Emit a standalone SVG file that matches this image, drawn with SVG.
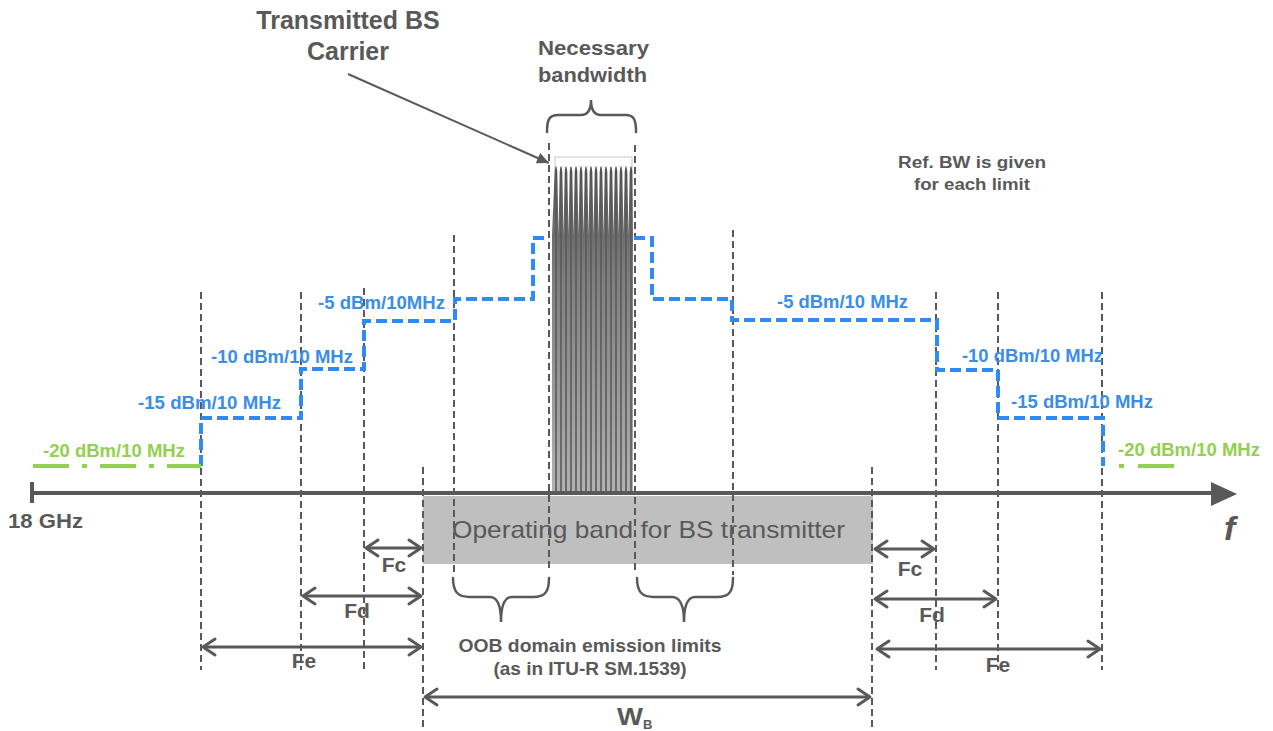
<svg xmlns="http://www.w3.org/2000/svg" width="1273" height="731" viewBox="0 0 1273 731">
<style>
.t{font-family:"Liberation Sans",Arial,sans-serif;font-weight:bold;fill:#595959}
.blue{font-family:"Liberation Sans",Arial,sans-serif;font-weight:bold;fill:#3a8ee8;font-size:19px}
.green{font-family:"Liberation Sans",Arial,sans-serif;font-weight:bold;fill:#92d050;font-size:19px}
.vd{stroke:#595959;stroke-width:2;stroke-dasharray:7 4;fill:none}
.dim{stroke:#595959;stroke-width:3;fill:none;marker-start:url(#chev);marker-end:url(#chev)}
.brace{stroke:#595959;stroke-width:2.5;fill:none;stroke-linecap:round}
.mask{stroke:#2e8af5;stroke-width:4;stroke-dasharray:11 5;fill:none}
.gr{stroke:#92d050;stroke-width:4;fill:none}
</style>
<defs>
<marker id="chev" markerUnits="userSpaceOnUse" viewBox="-15 -10 17 20" refX="0" refY="0" markerWidth="17" markerHeight="20" orient="auto-start-reverse" overflow="visible">
<path d="M-12,-8 L0,0 L-12,8" fill="none" stroke="#595959" stroke-width="3" stroke-linecap="round" stroke-linejoin="round"/>
</marker>
<marker id="tri" markerUnits="userSpaceOnUse" viewBox="-12 -6 14 12" refX="0" refY="0" markerWidth="14" markerHeight="12" orient="auto" overflow="visible">
<path d="M-12,-5.5 L0,0 L-12,5.5 Z" fill="#595959"/>
</marker>
<linearGradient id="cg" x1="0" y1="160" x2="0" y2="492" gradientUnits="userSpaceOnUse">
<stop offset="0" stop-color="#4f4f4f"/>
<stop offset="0.35" stop-color="#7e7e7e"/>
<stop offset="1" stop-color="#b2b2b2"/>
</linearGradient>
</defs>

<g id="operating-band">
<rect x="423" y="496" width="450" height="68" fill="#bfbfbf"/>
<text x="452" y="538" font-family="Liberation Sans, Arial, sans-serif" font-size="24" fill="#595959" textLength="393" lengthAdjust="spacingAndGlyphs">Operating band for BS transmitter</text>
</g>

<g id="carrier">
<rect x="555" y="157" width="77" height="335" fill="none" stroke="#c8c8c8" stroke-width="1"/>
<path fill="url(#cg)" d="M552,492 L552,235
L554.7,172 Q556,160 557.3,172 L558.5,235
L559.7,172 Q561,160 562.3,172 L563.5,235
L564.7,172 Q566,160 567.3,172 L568.5,235
L569.7,172 Q571,160 572.3,172 L573.5,235
L574.7,172 Q576,160 577.3,172 L578.5,235
L579.7,172 Q581,160 582.3,172 L583.5,235
L584.7,172 Q586,160 587.3,172 L588.5,235
L589.7,172 Q591,160 592.3,172 L593.5,235
L594.7,172 Q596,160 597.3,172 L598.5,235
L599.7,172 Q601,160 602.3,172 L603.5,235
L604.7,172 Q606,160 607.3,172 L608.5,235
L609.7,172 Q611,160 612.3,172 L613.5,235
L614.7,172 Q616,160 617.3,172 L618.5,235
L619.7,172 Q621,160 622.3,172 L623.5,235
L624.7,172 Q626,160 627.3,172 L628.5,235
L629.7,172 Q631,160 632.3,172 L633,235
L633,492 Z"/>
<path d="M556,180V492M561,180V492M566,180V492M571,180V492M576,180V492M581,180V492M586,180V492M591,180V492M596,180V492M601,180V492M606,180V492M611,180V492M616,180V492M621,180V492M626,180V492M631,180V492" stroke="#5a5a5a" stroke-width="1.6"/>
</g>

<g id="connectors">
<g id="guides">
<line class="vd" x1="201" y1="292" x2="201" y2="670"/>
<line class="vd" x1="301" y1="292" x2="301" y2="670"/>
<line class="vd" x1="364" y1="288" x2="364" y2="672"/>
<line class="vd" x1="423" y1="467" x2="423" y2="728"/>
<line class="vd" x1="454" y1="235" x2="454" y2="572"/>
<line class="vd" x1="549" y1="143" x2="549" y2="572"/>
<line class="vd" x1="635" y1="145" x2="635" y2="572"/>
<line class="vd" x1="733" y1="230" x2="733" y2="575"/>
<line class="vd" x1="872" y1="467" x2="872" y2="728"/>
<line class="vd" x1="936" y1="292" x2="936" y2="670"/>
<line class="vd" x1="998" y1="292" x2="998" y2="670"/>
<line class="vd" x1="1102" y1="292" x2="1102" y2="670"/>
</g>
<g id="axis">
<line x1="32" y1="493" x2="1214" y2="493" stroke="#595959" stroke-width="4"/>
<line x1="32" y1="482" x2="32" y2="503" stroke="#595959" stroke-width="4"/>
<path d="M1211,482 L1237,494 L1211,506 Z" fill="#595959"/>
</g>
<g id="mask">
<path class="mask" d="M201,466 V418 H301 V369 H364 V321 H455 V299 H533 V238 H549"/>
<path class="mask" d="M634,238 H652 V299 H732 V320 H937 V370 H998 V418 H1103 V466"/>
<path class="gr" d="M33,466 H201" stroke-dasharray="36 13 5 13"/>
<path class="gr" d="M1119,466 H1174" stroke-dasharray="5 14 36"/>
</g>
<g id="dims">
<line class="dim" x1="366" y1="548" x2="421" y2="548"/>
<line class="dim" x1="303" y1="596" x2="421" y2="596"/>
<line class="dim" x1="203" y1="647" x2="421" y2="647"/>
<line class="dim" x1="875" y1="549" x2="934" y2="549"/>
<line class="dim" x1="875" y1="599" x2="996" y2="599"/>
<line class="dim" x1="877" y1="649" x2="1100" y2="649"/>
<line class="dim" x1="425" y1="697" x2="870" y2="697"/>
</g>
<line id="carrier-pointer" x1="348" y1="74" x2="549" y2="163" stroke="#595959" stroke-width="2" marker-end="url(#tri)"/>
<g id="braces">
<path class="brace" d="M547,132 C547,120 549,115 558,115 L581,115 C587,115 591,111 591,100 C591,111 595,115 601,115 L626,115 C634,115 636,120 636,132"/>
<path class="brace" d="M453,578 C453,592 458,597 470,597 L490,597 C497,597 501,604 501,622 C501,604 505,597 512,597 L533,597 C545,597 549,592 549,578"/>
<path class="brace" d="M637,578 C637,592 642,597 654,597 L672,597 C679,597 684,604 684,622 C684,604 688,597 695,597 L717,597 C729,597 733,592 733,578"/>
</g>
</g>

<g id="labels">
<text class="t" x="348" y="29" font-size="25" text-anchor="middle">Transmitted BS</text>
<text class="t" x="348" y="60" font-size="25" text-anchor="middle">Carrier</text>
<text class="t" x="538" y="55" font-size="20" textLength="111" lengthAdjust="spacingAndGlyphs">Necessary</text>
<text class="t" x="538" y="82" font-size="20" textLength="109" lengthAdjust="spacingAndGlyphs">bandwidth</text>
<text class="t" x="898" y="168" font-size="16" textLength="148" lengthAdjust="spacingAndGlyphs">Ref. BW is given</text>
<text class="t" x="914" y="190" font-size="16" textLength="116" lengthAdjust="spacingAndGlyphs">for each limit</text>
<text class="t" x="8" y="528" font-size="21" textLength="75" lengthAdjust="spacingAndGlyphs">18 GHz</text>
<text class="t" x="1224" y="540" font-size="34" font-style="italic">f</text>
<text class="t" x="394" y="572" font-size="21" text-anchor="middle">Fc</text>
<text class="t" x="357" y="618" font-size="21" text-anchor="middle">Fd</text>
<text class="t" x="304" y="668" font-size="21" text-anchor="middle">Fe</text>
<text class="t" x="910" y="576" font-size="21" text-anchor="middle">Fc</text>
<text class="t" x="932" y="622" font-size="21" text-anchor="middle">Fd</text>
<text class="t" x="998" y="672" font-size="21" text-anchor="middle">Fe</text>
<text class="t" x="590" y="652" font-size="19" text-anchor="middle" textLength="263" lengthAdjust="spacingAndGlyphs">OOB domain emission limits</text>
<text class="t" x="590" y="675" font-size="19" text-anchor="middle">(as in ITU-R SM.1539)</text>
<text class="t" x="617" y="725" font-size="24" textLength="26" lengthAdjust="spacingAndGlyphs">W</text>
<text class="t" x="643" y="729" font-size="13">B</text>
<text class="blue" x="318" y="309" textLength="127" lengthAdjust="spacingAndGlyphs">-5 dBm/10MHz</text>
<text class="blue" x="211" y="363" textLength="142" lengthAdjust="spacingAndGlyphs">-10 dBm/10 MHz</text>
<text class="blue" x="138" y="409" textLength="143" lengthAdjust="spacingAndGlyphs">-15 dBm/10 MHz</text>
<text class="blue" x="777" y="308" textLength="131" lengthAdjust="spacingAndGlyphs">-5 dBm/10 MHz</text>
<text class="blue" x="962" y="362" textLength="141" lengthAdjust="spacingAndGlyphs">-10 dBm/10 MHz</text>
<text class="blue" x="1011" y="408" textLength="142" lengthAdjust="spacingAndGlyphs">-15 dBm/10 MHz</text>
<text class="green" x="43" y="457" textLength="142" lengthAdjust="spacingAndGlyphs">-20 dBm/10 MHz</text>
<text class="green" x="1118" y="456" textLength="142" lengthAdjust="spacingAndGlyphs">-20 dBm/10 MHz</text>
</g>
</svg>
